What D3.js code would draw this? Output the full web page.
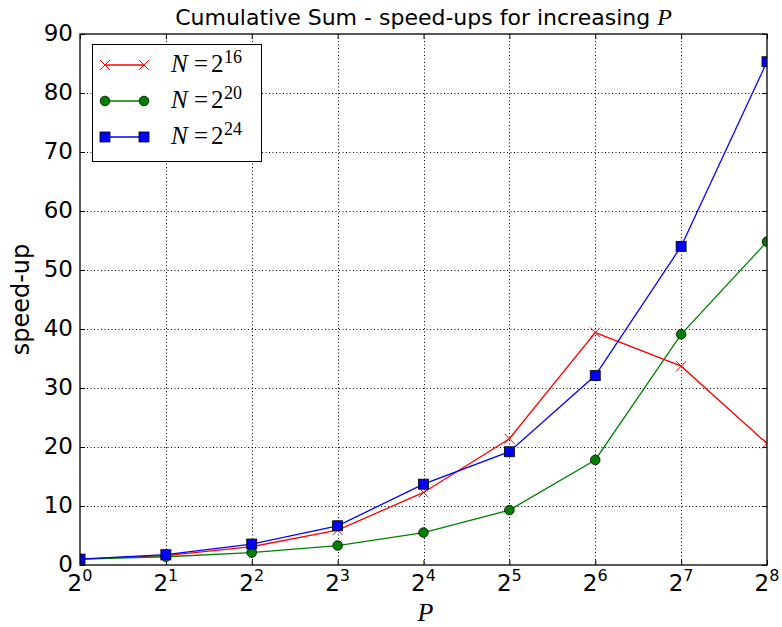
<!DOCTYPE html>
<html>
<head>
<meta charset="utf-8">
<script src="https://cdn.jsdelivr.net/npm/d3@7"></script>
<style>
body{margin:0;background:#fff;}
svg{display:block;}
</style>
</head>
<body>
<svg width="782" height="627"></svg>
<script>
// dane z wykresu
var P = [1, 2, 4, 8, 16, 32, 64, 128, 256];
var potegi = [0, 1, 2, 3, 4, 5, 6, 7, 8];
var n16 = [1.0, 1.6, 3.1, 5.9, 12.3, 21.4, 39.4, 33.7, 20.6];
var n20 = [1.0, 1.4, 2.1, 3.3, 5.5, 9.3, 17.8, 39.1, 54.8];
var n24 = [1.0, 1.75, 3.55, 6.65, 13.7, 19.2, 32.1, 54.0, 85.3];
var yTicks = [0, 10, 20, 30, 40, 50, 60, 70, 80, 90];
var serie = [
	{wyk: "16", dane: n16, kolor: "red", znak: "x"},
	{wyk: "20", dane: n20, kolor: "green", znak: "o"},
	{wyk: "24", dane: n24, kolor: "blue", znak: "s"}
];
var tytul = "Cumulative Sum - speed-ups for increasing ";

var lewo = 80, prawo = 767, gora = 34, dol = 565;
var svg = d3.select("svg");

var x = d3.scaleLog().base(2).domain([1, 256]).range([lewo, prawo]);
var y = d3.scaleLinear().domain([0, 90]).range([dol, gora]);

// siatka
svg.append("g").selectAll("line").data(P.slice(1, -1)).enter().append("line")
	.attr("x1", d => Math.round(x(d)) + 0.5).attr("x2", d => Math.round(x(d)) + 0.5)
	.attr("y1", gora).attr("y2", dol)
	.style("stroke", "#000").style("stroke-width", 1).style("stroke-dasharray", "1,2.5");
svg.append("g").selectAll("line").data(yTicks.slice(1, -1)).enter().append("line")
	.attr("y1", d => Math.round(y(d)) + 0.5).attr("y2", d => Math.round(y(d)) + 0.5)
	.attr("x1", lewo).attr("x2", prawo)
	.style("stroke", "#000").style("stroke-width", 1).style("stroke-dasharray", "1,2.5");

// osie z tickami do srodka
function os(g) {
	g.selectAll(".domain").remove();
	g.selectAll(".tick line").style("stroke", "#000").style("stroke-width", 1);
}
svg.append("g").attr("transform", "translate(0," + dol + ")")
	.call(d3.axisBottom(x).tickValues(P).tickSize(-5).tickSizeOuter(0).tickFormat(""))
	.call(os);
svg.append("g").attr("transform", "translate(0," + gora + ")")
	.call(d3.axisTop(x).tickValues(P).tickSize(-5).tickSizeOuter(0).tickFormat(""))
	.call(os);
svg.append("g").attr("transform", "translate(" + lewo + ",0)")
	.call(d3.axisLeft(y).tickValues(yTicks).tickSize(-5).tickSizeOuter(0).tickFormat(""))
	.call(os);
svg.append("g").attr("transform", "translate(" + prawo + ",0)")
	.call(d3.axisRight(y).tickValues(yTicks).tickSize(-5).tickSizeOuter(0).tickFormat(""))
	.call(os);

// etykiety osi Y
svg.append("g").selectAll("text").data(yTicks).enter().append("text")
	.attr("x", lewo - 7)
	.attr("y", d => y(d) + 7)
	.attr("text-anchor", "end")
	.attr("font-family", "DejaVu Sans")
	.attr("font-size", 23)
	.attr("fill", "#000")
	.text(d => d);

// etykiety osi X: 2^k
svg.append("g").selectAll("text").data(potegi).enter().append("text")
	.attr("x", (d, i) => x(P[i]))
	.attr("y", dol + 25.5)
	.attr("text-anchor", "middle")
	.attr("font-family", "DejaVu Sans")
	.attr("font-size", 23)
	.attr("fill", "#000")
	.each(function (d) {
		var t = d3.select(this);
		t.append("tspan").text("2");
		t.append("tspan").attr("dy", -10).attr("font-size", 16).text(d);
	});

// linie i znaczniki
svg.append("clipPath").attr("id", "obszar").append("rect")
	.attr("x", lewo).attr("y", gora).attr("width", prawo - lewo).attr("height", dol - gora);
var wykres = svg.append("g").attr("clip-path", "url(#obszar)");
var linia = d3.line().x((d, i) => x(P[i])).y(d => y(d));

function znacznik(g, typ, kolor, cx, cy) {
	if (typ == "x") {
		g.append("path")
			.attr("d", "M" + (cx - 5) + "," + (cy - 5) + "L" + (cx + 5) + "," + (cy + 5) +
				"M" + (cx - 5) + "," + (cy + 5) + "L" + (cx + 5) + "," + (cy - 5))
			.style("stroke", kolor).style("stroke-width", 1).style("fill", "none");
	} else if (typ == "o") {
		g.append("circle").attr("cx", cx).attr("cy", cy).attr("r", 4.8)
			.style("fill", kolor).style("stroke", "#000").style("stroke-width", 0.8);
	} else {
		g.append("rect").attr("x", cx - 5).attr("y", cy - 5).attr("width", 10).attr("height", 10)
			.style("fill", kolor).style("stroke", "#000").style("stroke-width", 0.8);
	}
}

serie.forEach(function (s) {
	wykres.append("path")
		.attr("d", linia(s.dane))
		.style("fill", "none")
		.style("stroke", s.kolor)
		.style("stroke-width", 1.3);
	s.dane.forEach(function (v, i) {
		znacznik(wykres, s.znak, s.kolor, x(P[i]), y(v));
	});
});

// ramka
svg.append("rect")
	.attr("x", lewo).attr("y", gora).attr("width", prawo - lewo).attr("height", dol - gora)
	.style("fill", "none").style("stroke", "#000").style("stroke-width", 1.3);

// legenda
var leg = svg.append("g");
leg.append("rect").attr("x", 92.5).attr("y", 44.5).attr("width", 169).attr("height", 117)
	.style("fill", "#fff").style("stroke", "#000").style("stroke-width", 1);
serie.forEach(function (s, i) {
	var ly = 65 + i * 36;
	leg.append("line").attr("x1", 105).attr("x2", 144).attr("y1", ly).attr("y2", ly)
		.style("stroke", s.kolor).style("stroke-width", 1.3);
	znacznik(leg, s.znak, s.kolor, 105, ly);
	znacznik(leg, s.znak, s.kolor, 144, ly);
	var t = leg.append("text").attr("y", ly + 7)
		.attr("font-family", "Liberation Serif").attr("font-size", 25).attr("fill", "#000");
	t.append("tspan").attr("x", 171).attr("font-style", "italic").text("N");
	t.append("tspan").attr("x", 194).text("=");
	t.append("tspan").attr("x", 211).text("2");
	t.append("tspan").attr("x", 224).attr("dy", -9).attr("font-size", 18).text(s.wyk);
});

// tytul i opisy osi
var tt = svg.append("text")
	.attr("x", (lewo + prawo) / 2)
	.attr("y", 25)
	.attr("text-anchor", "middle")
	.attr("font-family", "DejaVu Sans")
	.attr("font-size", 22)
	.attr("fill", "#000");
tt.append("tspan").text(tytul);
tt.append("tspan").attr("font-family", "Liberation Serif").attr("font-style", "italic")
	.attr("font-size", 24).text("P");

svg.append("text")
	.attr("x", (lewo + prawo) / 2 + 2)
	.attr("y", 621)
	.attr("text-anchor", "middle")
	.attr("font-family", "Liberation Serif")
	.attr("font-style", "italic")
	.attr("font-size", 26)
	.attr("fill", "#000")
	.text("P");

svg.append("text")
	.attr("transform", "translate(29," + (gora + dol) / 2 + ") rotate(-90)")
	.attr("text-anchor", "middle")
	.attr("font-family", "DejaVu Sans")
	.attr("font-size", 24)
	.attr("fill", "#000")
	.text("speed-up");
</script>
</body>
</html>
